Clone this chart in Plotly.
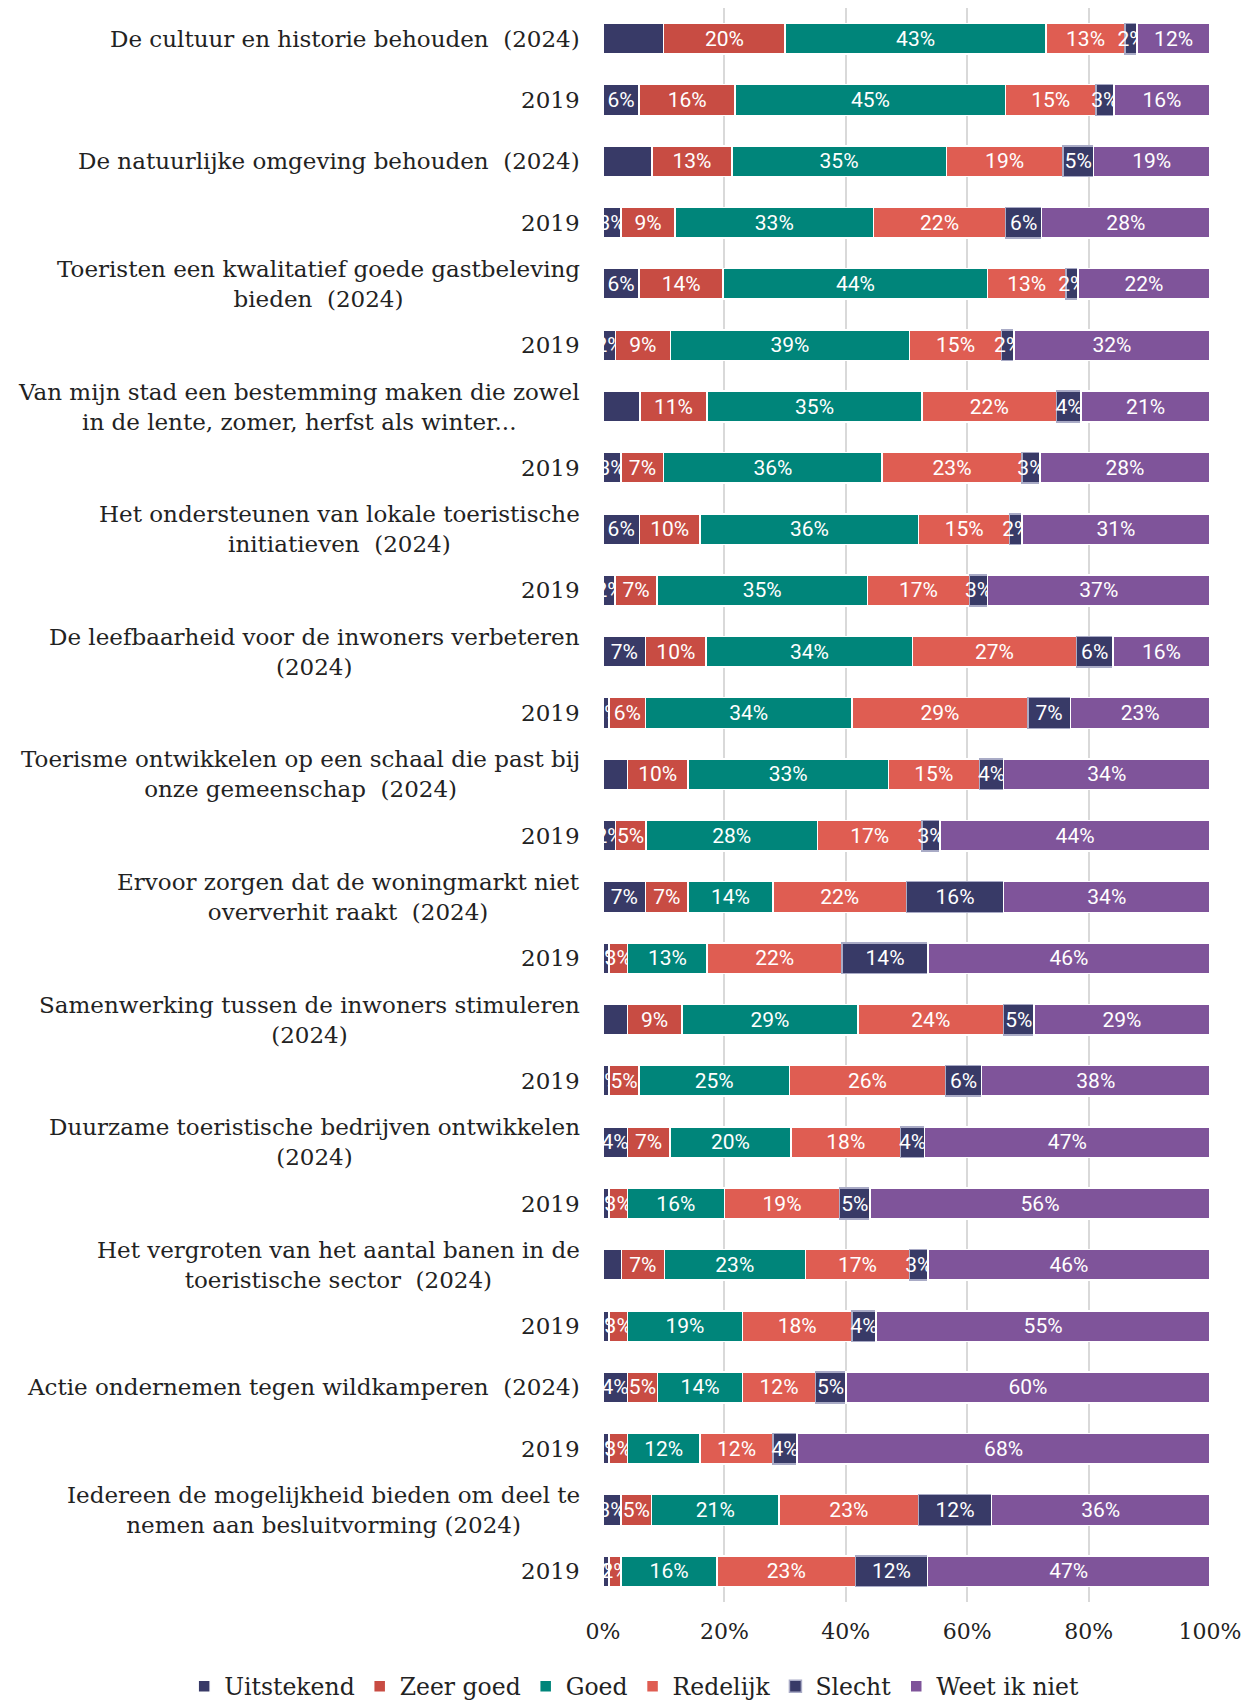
import plotly.graph_objects as go

# Row labels, top to bottom
rows = [
    "De cultuur en historie behouden  (2024)", "2019",
    "De natuurlijke omgeving behouden  (2024)", "2019",
    "Toeristen een kwalitatief goede gastbeleving<br>bieden  (2024)", "2019",
    "Van mijn stad een bestemming maken die zowel<br>in de lente, zomer, herfst als winter...", "2019",
    "Het ondersteunen van lokale toeristische<br>initiatieven  (2024)", "2019",
    "De leefbaarheid voor de inwoners verbeteren<br>(2024)", "2019",
    "Toerisme ontwikkelen op een schaal die past bij<br>onze gemeenschap  (2024)", "2019",
    "Ervoor zorgen dat de woningmarkt niet<br>oververhit raakt  (2024)", "2019",
    "Samenwerking tussen de inwoners stimuleren<br>(2024)", "2019",
    "Duurzame toeristische bedrijven ontwikkelen<br>(2024)", "2019",
    "Het vergroten van het aantal banen in de<br>toeristische sector  (2024)", "2019",
    "Actie ondernemen tegen wildkamperen  (2024)", "2019",
    "Iedereen de mogelijkheid bieden om deel te<br>nemen aan besluitvorming (2024)", "2019",
]

uitstekend = [10, 6, 8, 3, 6, 2, 6, 3, 6, 2, 7, 1, 4, 2, 7, 1, 4, 1, 4, 1, 3, 1, 4, 1, 3, 1]
zeer_goed = [20, 16, 13, 9, 14, 9, 11, 7, 10, 7, 10, 6, 10, 5, 7, 3, 9, 5, 7, 3, 7, 3, 5, 3, 5, 2]
goed = [43, 45, 35, 33, 44, 39, 35, 36, 36, 35, 34, 34, 33, 28, 14, 13, 29, 25, 20, 16, 23, 19, 14, 12, 21, 16]
redelijk = [13, 15, 19, 22, 13, 15, 22, 23, 15, 17, 27, 29, 15, 17, 22, 22, 24, 26, 18, 19, 17, 18, 12, 12, 23, 23]
slecht = [2, 3, 5, 6, 2, 2, 4, 3, 2, 3, 6, 7, 4, 3, 16, 14, 5, 6, 4, 5, 3, 4, 5, 4, 12, 12]
weet_niet = [12, 16, 19, 28, 22, 32, 21, 28, 31, 37, 16, 23, 34, 44, 34, 46, 29, 38, 47, 56, 46, 55, 60, 68, 36, 47]

# rows where the "Uitstekend" segment carries no data label
no_label_uitstekend = {0, 2, 6, 12, 16, 20}

x_ticks = [0, 20, 40, 60, 80, 100]
x_tick_labels = ["0%", "20%", "40%", "60%", "80%", "100%"]

series = [
    ("Uitstekend", uitstekend, "#383A67", "white"),
    ("Zeer goed", zeer_goed, "#C84C43", "white"),
    ("Goed", goed, "#00857A", "white"),
    ("Redelijk", redelijk, "#DF5D52", "white"),
    ("Slecht", slecht, "#383A67", "#A9ABC6"),
    ("Weet ik niet", weet_niet, "#7F549A", "white"),
]

ypos = list(range(len(rows)))
serif = "DejaVu Serif"

fig = go.Figure()
for name, vals, color, edge in series:
    text = [f"{v}%" for v in vals]
    if name == "Uitstekend":
        text = ["" if i in no_label_uitstekend else t for i, t in enumerate(text)]
    fig.add_trace(go.Bar(
        y=ypos, x=vals, name=name, orientation="h",
        marker=dict(color=color, line=dict(color=edge, width=1.5)),
        text=text, textposition="inside", insidetextanchor="middle",
        textangle=0, textfont=dict(family="Roboto", size=21, color="white"),
        hoverinfo="skip",
    ))

# category labels as centred multi-line blocks
for i, label in enumerate(rows):
    fig.add_annotation(
        x=0, xref="paper", y=i, yref="y", text=label, showarrow=False,
        xanchor="right", yanchor="middle", align="center", xshift=-21,
        font=dict(family=serif, size=23, color="#222222"),
    )

fig.update_layout(
    width=1247, height=1693,
    barmode="stack", barnorm="percent", bargap=0.5,
    plot_bgcolor="white", paper_bgcolor="white",
    margin=dict(l=595, r=45, t=0, b=99, autoexpand=False),
    uniformtext=dict(minsize=21, mode="show"),
    xaxis=dict(
        range=[0, 100], tickvals=x_ticks, ticktext=x_tick_labels,
        showgrid=True, gridcolor="#D9D9D9", gridwidth=1.5, zeroline=False,
        showline=False, ticklabelstandoff=14,
        tickfont=dict(family=serif, size=22, color="#222222"),
    ),
    yaxis=dict(range=[len(rows) - 0.5, -0.5], showticklabels=False, showgrid=False, zeroline=False),
    legend=dict(
        orientation="h", x=-0.69, xanchor="left", y=-0.053, yanchor="middle",
        traceorder="normal", itemwidth=30,
        font=dict(family=serif, size=23.5, color="#222222"),
    ),
    showlegend=True,
)

fig.write_html("out.html")
